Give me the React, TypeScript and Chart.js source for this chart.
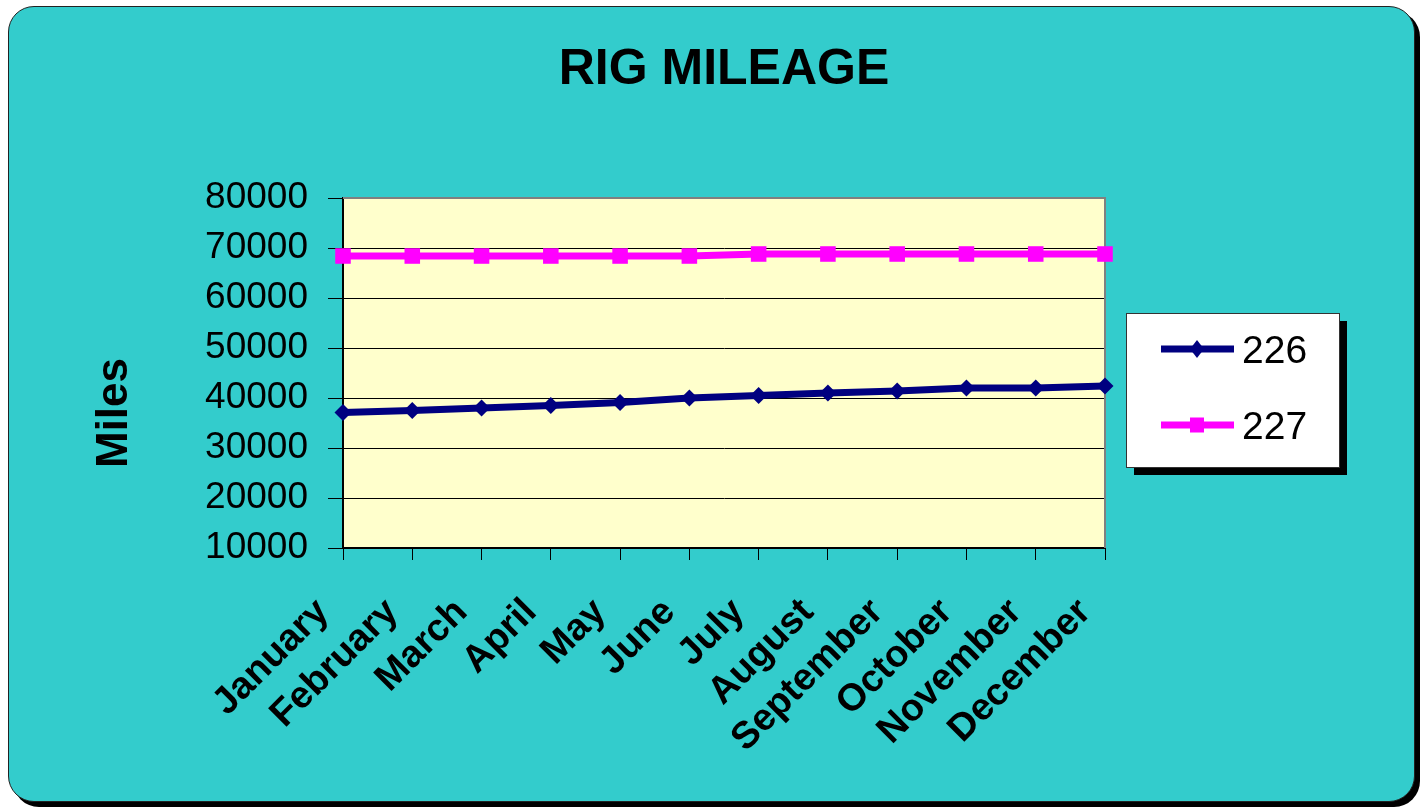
import React, { useEffect, useRef } from "react";
import { Chart, registerables } from "chart.js";

Chart.register(...registerables);

const months = [
  "January", "February", "March", "April", "May", "June",
  "July", "August", "September", "October", "November", "December",
];
const rig226 = [37100, 37500, 38000, 38500, 39100, 40000, 40500, 41000, 41400, 42000, 42000, 42400];
const rig227 = [68400, 68400, 68400, 68400, 68400, 68400, 68800, 68800, 68800, 68800, 68800, 68800];
const seriesNames = ["226", "227"];
const yMin = 10000;
const yMax = 80000;
const yStep = 10000;
const chartTitle = "RIG MILEAGE";
const yTitle = "Miles";

const FONT = '"Liberation Sans", Arial, sans-serif';

const plotBgPlugin = {
  id: "plotBg",
  beforeDraw(chart: any) {
    const { ctx, chartArea: a } = chart;
    ctx.save();
    ctx.fillStyle = "#FFFFCC";
    ctx.fillRect(a.left, a.top, a.right - a.left, a.bottom - a.top);
    ctx.restore();
  },
  beforeDatasetsDraw(chart: any) {
    const { ctx, chartArea: a } = chart;
    ctx.save();
    ctx.strokeStyle = "#808080";
    ctx.lineWidth = 2;
    ctx.beginPath();
    ctx.moveTo(a.left, a.top);
    ctx.lineTo(a.right, a.top);
    ctx.lineTo(a.right, a.bottom);
    ctx.stroke();
    ctx.restore();
  },
};

const yTitlePlugin = {
  id: "yTitleText",
  afterDraw(chart: any) {
    const { ctx, chartArea: a } = chart;
    ctx.save();
    ctx.translate(127, (a.top + a.bottom) / 2 + 40);
    ctx.rotate(-Math.PI / 2);
    ctx.font = `bold 44px ${FONT}`;
    ctx.fillStyle = "#000";
    ctx.textAlign = "center";
    ctx.textBaseline = "alphabetic";
    ctx.fillText(yTitle, 0, 0);
    ctx.restore();
  },
};

const boxLegendPlugin = {
  id: "boxLegend",
  afterDraw(chart: any) {
    const { ctx, chartArea: a } = chart;
    const x = a.right + 21;
    const y = a.top + 115;
    const w = 213;
    const h = 154;
    ctx.save();
    ctx.fillStyle = "#000";
    ctx.fillRect(x + 8, y + 8, w, h);
    ctx.fillStyle = "#fff";
    ctx.fillRect(x, y, w, h);
    ctx.strokeStyle = "#333";
    ctx.lineWidth = 1;
    ctx.strokeRect(x + 0.5, y + 0.5, w, h);
    chart.data.datasets.forEach((ds: any, i: number) => {
      const cy = y + 36 + i * 76;
      ctx.strokeStyle = ds.borderColor;
      ctx.lineWidth = 7;
      ctx.beginPath();
      ctx.moveTo(x + 35, cy);
      ctx.lineTo(x + 108, cy);
      ctx.stroke();
      ctx.fillStyle = ds.borderColor;
      const mx = x + 71;
      if (ds.pointStyle === "rectRot") {
        ctx.beginPath();
        ctx.moveTo(mx, cy - 9);
        ctx.lineTo(mx + 7, cy);
        ctx.lineTo(mx, cy + 9);
        ctx.lineTo(mx - 7, cy);
        ctx.closePath();
        ctx.fill();
      } else {
        ctx.fillRect(mx - 7, cy - 7.5, 14, 15);
      }
      ctx.fillStyle = "#000";
      ctx.font = `39px ${FONT}`;
      ctx.textAlign = "left";
      ctx.textBaseline = "middle";
      ctx.fillText(ds.label, x + 116, cy + 3);
    });
    ctx.restore();
  },
};

export default function App() {
  const ref = useRef<HTMLCanvasElement | null>(null);

  useEffect(() => {
    if (!ref.current) return;
    const chart = new Chart(ref.current, {
      type: "line",
      data: {
        labels: months,
        datasets: [
          {
            label: seriesNames[0],
            data: rig226,
            borderColor: "#000080",
            backgroundColor: "#000080",
            borderWidth: 7,
            pointStyle: "rectRot",
            pointRadius: 8.5,
            pointBorderWidth: 0,
            tension: 0,
            clip: false as any,
          },
          {
            label: seriesNames[1],
            data: rig227,
            borderColor: "#FF00FF",
            backgroundColor: "#FF00FF",
            borderWidth: 7,
            pointStyle: "rect",
            pointRadius: 11,
            pointBorderWidth: 0,
            tension: 0,
            clip: false as any,
          },
        ],
      },
      options: {
        animation: false,
        responsive: false,
        devicePixelRatio: 1,
        layout: { padding: { left: 0, right: 317, top: 0, bottom: 0 } },
        plugins: {
          legend: { display: false },
          tooltip: { enabled: false },
          title: {
            display: true,
            text: chartTitle,
            fullSize: false,
            color: "#000",
            font: { family: FONT, size: 50, weight: "bold", lineHeight: 1.2 },
            padding: { top: 40, bottom: 98 },
          },
        },
        scales: {
          x: {
            type: "category",
            offset: false,
            afterFit(scale: any) {
              scale.height = 259;
            },
            grid: {
              drawOnChartArea: false,
              drawTicks: true,
              tickLength: 12,
              color: "#000",
            },
            border: { display: true, color: "#000", width: 2 },
            ticks: {
              autoSkip: false,
              minRotation: 45,
              maxRotation: 45,
              padding: 30,
              labelOffset: -20,
              color: "#000",
              font: { family: FONT, size: 38, weight: "bold" },
            },
          },
          y: {
            min: yMin,
            max: yMax,
            afterFit(scale: any) {
              scale.width = 343;
            },
            grid: {
              color: "#000",
              lineWidth: 1,
              tickLength: 15,
              drawTicks: true,
            },
            border: { display: true, color: "#000", width: 2 },
            ticks: {
              stepSize: yStep,
              padding: 20,
              color: "#000",
              font: { family: FONT, size: 37 },
              callback: (v: any) => String(v),
            },
          },
        },
      },
      plugins: [plotBgPlugin, yTitlePlugin, boxLegendPlugin],
    });
    return () => chart.destroy();
  }, []);

  return (
    <div
      style={{
        position: "fixed",
        left: 0,
        top: 0,
        width: 1422,
        height: 807,
        overflow: "hidden",
        background: "#fff",
      }}
    >
      <div
        style={{
          position: "absolute",
          left: 8,
          top: 6,
          width: 1405,
          height: 794,
          background: "#33CCCC",
          border: "1px solid #222",
          borderRadius: 26,
          boxShadow: "5px 5px 0 #000",
        }}
      />
      <canvas
        ref={ref}
        width={1422}
        height={807}
        style={{ position: "absolute", left: 0, top: 0, width: 1422, height: 807 }}
      />
    </div>
  );
}
